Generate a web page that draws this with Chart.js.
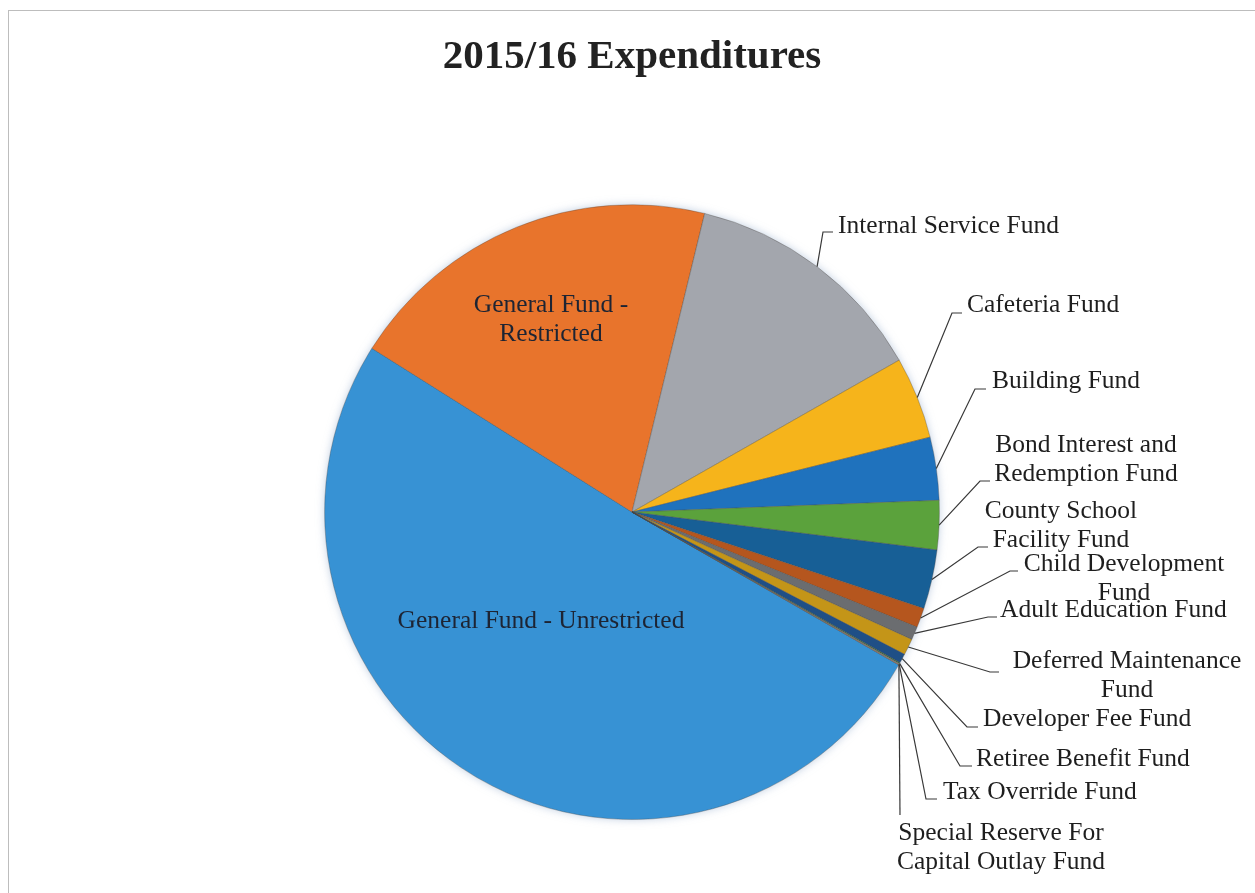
<!DOCTYPE html>
<html lang="en">
<head>
    <meta charset="UTF-8">
    <title>2015/16 Expenditures</title>
    <style>
        html, body { margin: 0; padding: 0; background: #fff; }
        .page { position: relative; width: 1255px; height: 893px; overflow: hidden; }
        .frame { position: absolute; left: 8px; top: 10px; width: 1260px; height: 900px; border: 1px solid #bdbdbd; }
        canvas { position: absolute; left: 0; top: 0; }
    </style>
</head>
<body>
    <div class="page">
        <div class="frame"></div>
        <canvas id="expChart" width="1255" height="893"></canvas>
    </div>

    <script src="https://cdn.jsdelivr.net/npm/chart.js"></script>
    <script>
        // Fund names (arrays = wrapped labels)
        const funds = [
            'General Fund - Unrestricted',
            ['General Fund -', 'Restricted'],
            'Internal Service Fund',
            'Cafeteria Fund',
            'Building Fund',
            ['Bond Interest and', 'Redemption Fund'],
            ['County School', 'Facility Fund'],
            ['Child Development', 'Fund'],
            'Adult Education Fund',
            ['Deferred Maintenance', 'Fund'],
            'Developer Fee Fund',
            'Retiree Benefit Fund',
            'Tax Override Fund',
            ['Special Reserve For', 'Capital Outlay Fund']
        ];

        // share of total expenditures, %
        const shares = [50.67, 19.86, 12.97, 4.31, 3.31, 2.58, 3.11, 1.03, 0.69, 0.86, 0.50, 0.06, 0.03, 0.03];

        const fundColors = [
            '#3792d4', '#e8742c', '#a3a6ad', '#f6b41b', '#1f72bd', '#5ba23c', '#175f96',
            '#b5561e', '#6b6d70', '#c49518', '#1f4f86', '#3f7030', '#7cafdd', '#f1975a'
        ];

        // where each label sits; elbow/end = leader line bend and tick end
        const labelLayout = [
            { inside: true, x: 541, y: 628 },
            { inside: true, x: 551, y: 312 },
            { x: 838, y: 233, align: 'left', elbow: [823, 232], end: [833, 232] },
            { x: 967, y: 312, align: 'left', elbow: [952, 313], end: [962, 313] },
            { x: 992, y: 388, align: 'left', elbow: [975, 389], end: [986, 389] },
            { x: 1086, y: 452, align: 'center', elbow: [980, 481], end: [990, 481] },
            { x: 1061, y: 518, align: 'center', elbow: [978, 547], end: [988, 547] },
            { x: 1124, y: 571, align: 'center', elbow: [1010, 571], end: [1018, 571] },
            { x: 1000, y: 617, align: 'left', elbow: [988, 617], end: [997, 617] },
            { x: 1127, y: 668, align: 'center', elbow: [990, 672], end: [999, 672] },
            { x: 983, y: 726, align: 'left', elbow: [967, 727], end: [978, 727] },
            { x: 976, y: 766, align: 'left', elbow: [960, 766], end: [972, 766] },
            { x: 943, y: 799, align: 'left', elbow: [926, 799], end: [937, 799] },
            { x: 1001, y: 840, align: 'center', elbow: [900, 815], end: [900, 815] }
        ];
        const lineGap = 29;

        // soft halo behind the pie
        const pieHalo = {
            id: 'pieHalo',
            beforeDatasetsDraw(chart) {
                const arc = chart.getDatasetMeta(0).data[0];
                if (!arc) return;
                const ctx = chart.ctx;
                ctx.save();
                ctx.shadowColor = 'rgba(140,165,200,0.55)';
                ctx.shadowBlur = 9;
                ctx.fillStyle = '#fff';
                ctx.beginPath();
                ctx.arc(arc.x, arc.y, arc.outerRadius, 0, Math.PI * 2);
                ctx.fill();
                ctx.restore();
            }
        };

        // category labels with leader lines
        const leaderLabels = {
            id: 'leaderLabels',
            afterDatasetsDraw(chart) {
                const ctx = chart.ctx;
                const arcs = chart.getDatasetMeta(0).data;
                ctx.save();
                ctx.font = '25.5px "Liberation Serif", "Times New Roman", serif';
                ctx.textBaseline = 'alphabetic';
                arcs.forEach((arc, i) => {
                    const lay = labelLayout[i];
                    const lines = [].concat(chart.data.labels[i]);
                    if (lay.inside) {
                        ctx.fillStyle = '#1d2433';
                        ctx.textAlign = 'center';
                        lines.forEach((t, k) => ctx.fillText(t, lay.x, lay.y + k * lineGap));
                        return;
                    }
                    const mid = (arc.startAngle + arc.endAngle) / 2;
                    const ax = arc.x + Math.cos(mid) * arc.outerRadius;
                    const ay = arc.y + Math.sin(mid) * arc.outerRadius;
                    ctx.strokeStyle = '#383838';
                    ctx.lineWidth = 1.2;
                    ctx.beginPath();
                    ctx.moveTo(ax, ay);
                    ctx.lineTo(lay.elbow[0], lay.elbow[1]);
                    ctx.lineTo(lay.end[0], lay.end[1]);
                    ctx.stroke();
                    ctx.fillStyle = '#1e1e1e';
                    ctx.textAlign = lay.align;
                    lines.forEach((t, k) => ctx.fillText(t, lay.x, lay.y + k * lineGap));
                });
                ctx.restore();
            }
        };

        new Chart(document.getElementById('expChart').getContext('2d'), {
            type: 'pie',
            data: {
                labels: funds,
                datasets: [{
                    data: shares,
                    backgroundColor: fundColors,
                    borderColor: 'rgba(70,70,70,0.35)',
                    borderWidth: 1
                }]
            },
            options: {
                responsive: false,
                animation: false,
                rotation: 119.8,
                layout: { padding: { left: 324, right: 315, top: 0, bottom: 73 } },
                plugins: {
                    legend: { display: false },
                    tooltip: { enabled: false },
                    title: {
                        display: true,
                        text: '2015/16 Expenditures',
                        color: '#222',
                        font: { family: '"Liberation Serif", "Times New Roman", serif', size: 41, weight: 'bold' },
                        padding: { top: 33, bottom: 122 }
                    }
                }
            },
            plugins: [pieHalo, leaderLabels]
        });
    </script>
</body>
</html>
